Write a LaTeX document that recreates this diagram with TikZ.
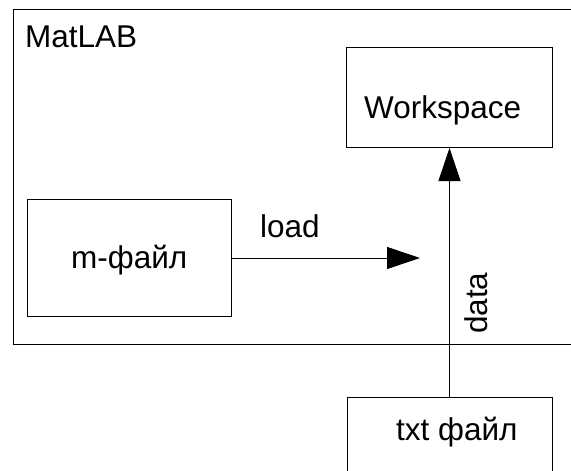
\documentclass[tikz,border=0pt]{standalone}
\usepackage{fontspec}
\setmainfont{Liberation Sans}
\usetikzlibrary{arrows.meta, positioning}
\tikzstyle{box} = [rectangle, draw = black, line width = 1pt,
  anchor = north west, inner sep = 0]
\tikzstyle{lbl} = [font = \fontsize{31.5}{37}\selectfont, inner sep = 0,
  anchor = base west]
\tikzstyle{arr} = [line width = 1pt, -{Triangle[length = 33pt, width = 22pt]}]

\begin{document}
\begin{tikzpicture}[x = 1pt, y = -1pt]
      \clip (0, 0) rectangle (571, 471);
      % MatLAB
      \node [box, minimum width = 600, minimum height = 335] (matlab) at (13, 9) {};
      \node [lbl] (matlab-txt) at (25, 47) {MatLAB};
      % Workspace
      \node [box, minimum width = 206, minimum height = 100] (ws) at (346, 47) {};
      \node [lbl] (ws-txt) at (364, 118) {Workspace};
      % m-file
      \node [box, minimum width = 204, minimum height = 117] (mfile) at (27, 199) {};
      \node [lbl] (mfile-txt) at (71, 268) {m-файл};
      % txt file
      \node [box, minimum width = 205, minimum height = 110] (txtfile) at (347, 397) {};
      \node [lbl] (txtfile-txt) at (396, 440) {txt файл};

      \coordinate (load-end) at (420, 258);
      \draw [arr] (mfile) -- (load-end);
      \node [lbl] (load-txt) at (260, 237) {load};
      \draw [arr] (txtfile.north -| ws.south) -- (ws.south);
      \node [lbl, rotate = 90] (data-txt) at (487, 334) {data};
    \end{tikzpicture}
\end{document}
